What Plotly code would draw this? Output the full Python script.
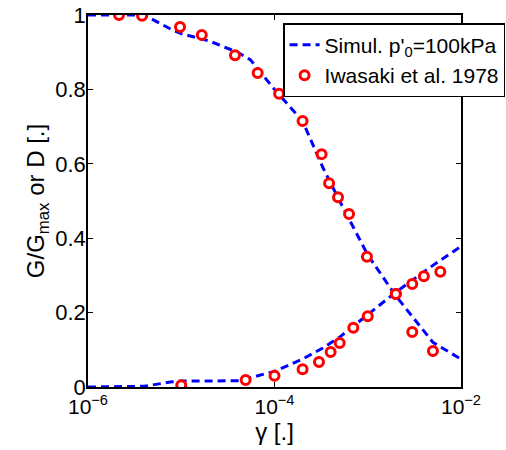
import plotly.graph_objects as go

# Simulation (p'0 = 100 kPa)
sim_strain = [1e-6, 2e-6, 4e-6, 8e-6, 1e-5, 2e-5, 4e-5, 5.5e-5, 1e-4, 2e-4, 3.3e-4, 5e-4, 1e-3, 2e-3, 5e-3, 1e-2]
sim_G = [1.0, 1.0, 1.0, 0.96, 0.95, 0.93, 0.90, 0.88, 0.80, 0.715, 0.59, 0.50, 0.355, 0.245, 0.12, 0.075]
sim_D = [0.0, 0.0, 0.002, 0.014, 0.016, 0.016, 0.017, 0.025, 0.042, 0.075, 0.105, 0.134, 0.194, 0.255, 0.327, 0.378]

# Iwasaki et al. 1978
exp_G_strain = [2.15e-6, 3.8e-6, 9.7e-6, 1.66e-5, 3.77e-5, 6.6e-5, 1.12e-4, 2.0e-4, 3.2e-4, 3.85e-4, 4.8e-4, 6.3e-4, 9.8e-4, 2.0e-3, 3.0e-3, 5.0e-3]
exp_G = [1.0, 0.998, 0.968, 0.946, 0.892, 0.844, 0.788, 0.715, 0.626, 0.548, 0.51, 0.465, 0.35, 0.25, 0.148, 0.097]
exp_D_strain = [1.0e-5, 4.9e-5, 1.0e-4, 2.0e-4, 3.0e-4, 4.0e-4, 5.0e-4, 7.0e-4, 1.0e-3, 2.0e-3, 3.0e-3, 4.0e-3, 6.0e-3]
exp_D = [0.005, 0.019, 0.03, 0.048, 0.067, 0.094, 0.118, 0.159, 0.19, 0.25, 0.277, 0.298, 0.31]

x_tickvals = [1e-6, 1e-4, 1e-2]
x_ticktext = ["10<sup>−6</sup>", "10<sup>−4</sup>", "10<sup>−2</sup>"]
y_tickvals = [0, 0.2, 0.4, 0.6, 0.8, 1]
y_ticktext = ["0", "0.2", "0.4", "0.6", "0.8", "1"]

BLUE = "#0000ff"
RED = "#ff0000"
FONT = "Liberation Sans, Arial, Helvetica, sans-serif"

fig = go.Figure()
fig.add_trace(go.Scatter(x=sim_strain, y=sim_G, mode="lines",
                         line=dict(color=BLUE, width=3, dash="8px,5px"),
                         name="Simul. p'<sub>0</sub>=100kPa"))
fig.add_trace(go.Scatter(x=sim_strain, y=sim_D, mode="lines",
                         line=dict(color=BLUE, width=3, dash="8px,5px"),
                         showlegend=False))
fig.add_trace(go.Scatter(x=exp_G_strain, y=exp_G, mode="markers",
                         marker=dict(symbol="circle", size=9, color="white",
                                     line=dict(color=RED, width=3)),
                         name="Iwasaki et al. 1978"))
fig.add_trace(go.Scatter(x=exp_D_strain, y=exp_D, mode="markers",
                         marker=dict(symbol="circle", size=9, color="white",
                                     line=dict(color=RED, width=3)),
                         showlegend=False))

fig.update_layout(
    width=506, height=450,
    margin=dict(l=88, r=45, t=15, b=63, autoexpand=False),
    paper_bgcolor="white", plot_bgcolor="white",
    font=dict(family=FONT, color="black", size=20),
    showlegend=True,
    legend=dict(x=0.523, y=0.978, xanchor="left", yanchor="top",
                bgcolor="white", bordercolor="black", borderwidth=1.5,
                font=dict(size=21), tracegroupgap=0, itemwidth=30),
    xaxis=dict(type="log", range=[-6, -2], tickvals=x_tickvals, ticktext=x_ticktext,
               ticks="inside", ticklen=5, tickcolor="black", showgrid=False,
               zeroline=False, showline=True, linecolor="black", linewidth=1.5,
               mirror="ticks", tickfont=dict(size=21), automargin=False,
               title=dict(text="γ [.]", font=dict(size=24), standoff=2)),
    yaxis=dict(range=[0, 1], tickvals=y_tickvals, ticktext=y_ticktext,
               ticks="inside", ticklen=5, tickcolor="black", showgrid=False,
               zeroline=False, showline=True, linecolor="black", linewidth=1.5,
               mirror="ticks", tickfont=dict(size=22), automargin=False,
               ticklabelstandoff=-4,
               title=dict(text="G/G<sub>max</sub> or D [.]", font=dict(size=24), standoff=4)),
)

fig.write_html("out.html", config={"displayModeBar": False},
               post_script="document.body.style.margin='0';")
